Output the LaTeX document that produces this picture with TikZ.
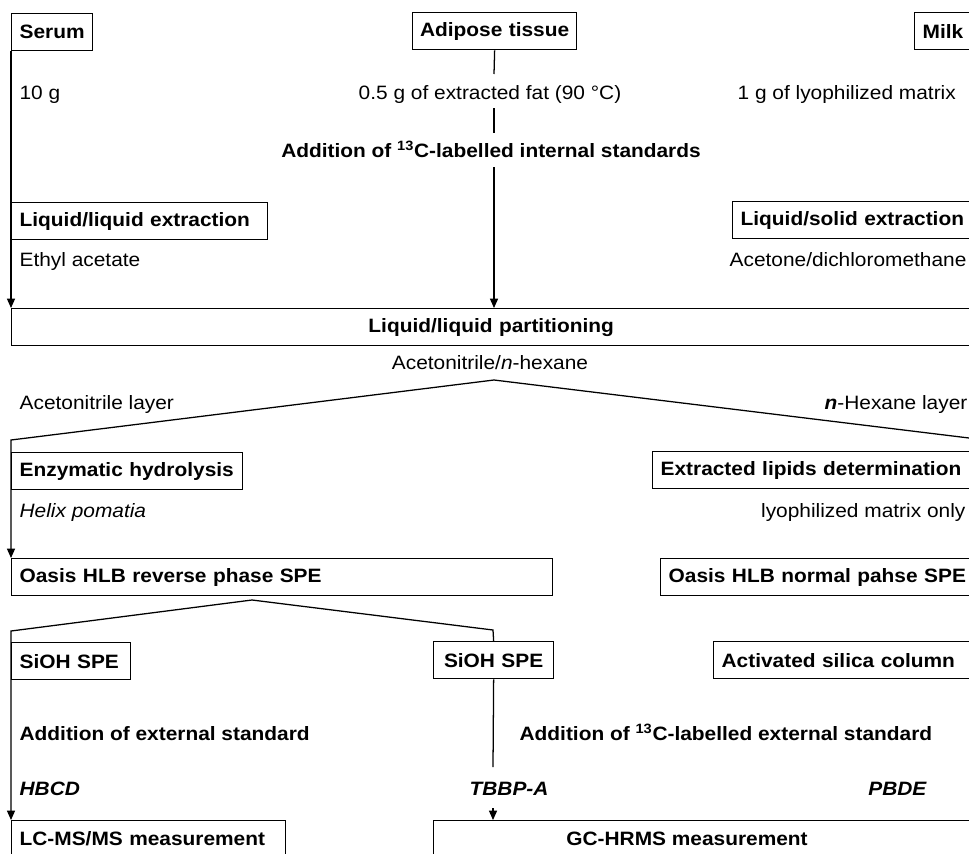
\documentclass[tikz,border=0pt]{standalone}
\usepackage{fontspec}
\setmainfont{Liberation Sans}[FakeStretch=1.08]
\usetikzlibrary{arrows.meta}
\newdimen\px \px=0.75pt
\begin{document}
\begin{tikzpicture}[x=0.75pt,y=-0.75pt,
  line width=0.95pt,
  every node/.style={font=\fontsize{14.5}{17}\selectfont},
  box/.style={draw, line width=0.95pt, anchor=north west, inner xsep=8\px, inner ysep=0pt,
    minimum height=37\px, align=left, font=\fontsize{14.5}{17}\selectfont\bfseries},
  cbox/.style={box, align=center},
  lbl/.style={inner sep=0pt},
  blbl/.style={inner sep=0pt, font=\fontsize{14.5}{17}\selectfont\bfseries},
  bilbl/.style={inner sep=0pt, font=\fontsize{14.5}{17}\selectfont\bfseries\itshape},
  arr/.style={-{Triangle[width=6pt,length=7pt]}}]
\useasboundingbox (0,0) rectangle (969,853);
\clip (0,0) rectangle (969,853);

% boxes
\node[box, text width=65\px] (serum) at (11,13) {Serum};
\node[cbox, inner xsep=1\px, text width=162\px] (adipose) at (412,12) {Adipose tissue};
\node[box, text width=90\px] (milk) at (914,12) {Milk};
\node[box, text width=240\px] (lle) at (11,202) {Liquid/liquid extraction};
\node[box, text width=284\px] (lse) at (732,201) {Liquid/solid extraction};
\node[cbox, text width=943\px] (part) at (11,308) {Liquid/liquid partitioning};
\node[box, text width=215\px] (enz) at (11,452) {Enzymatic hydrolysis};
\node[box, text width=334\px] (lipid) at (652,451) {Extracted lipids determination};
\node[box, text width=525\px] (oasisR) at (11,558) {Oasis HLB reverse phase SPE};
\node[box, text width=334\px] (oasisN) at (660,558) {Oasis HLB normal pahse SPE};
\node[box, text width=103\px] (siohA) at (11,642) {SiOH SPE};
\node[cbox, text width=104\px] (siohB) at (433,641) {SiOH SPE};
\node[box, text width=284\px] (silica) at (713,641) {Activated silica column};
\node[box, text width=258\px] (lcms) at (11,820) {LC-MS/MS measurement};
\node[box, text width=584\px] (gc) at (433,820) {};
\node[blbl] (gclabel) at (687,838.5) {GC-HRMS measurement};

% labels
\node[lbl, anchor=base west] (g10) at (19,99) {10 g};
\node[lbl, anchor=base] (g05) at (490,99) {0.5 g of extracted fat (90 °C)};
\node[lbl, anchor=base west] (g1) at (737,99) {1 g of lyophilized matrix};
\node[blbl, anchor=base] (addint) at (491,157) {Addition of \textsuperscript{13}C-labelled internal standards};
\node[lbl, anchor=base west] (ethyl) at (19,266) {Ethyl acetate};
\node[lbl, anchor=base west] (acetone) at (729,266) {Acetone/dichloromethane};
\node[lbl, anchor=base] (acnhex) at (490,369) {Acetonitrile/\textit{n}-hexane};
\node[lbl, anchor=base west] (aclayer) at (19,409) {Acetonitrile layer};
\node[lbl, anchor=base east] (hexlayer) at (968,409) {\textbf{\textit{n}}-Hexane layer};
\node[lbl, anchor=base west] (helix) at (19,517) {\textit{Helix pomatia}};
\node[lbl, anchor=base east] (lyoonly) at (966,517) {lyophilized matrix only};
\node[blbl, anchor=base west] (addext) at (19,740) {Addition of external standard};
\node[blbl, anchor=base west] (add13) at (519,740) {Addition of \textsuperscript{13}C-labelled external standard};
\node[bilbl, anchor=base west] (hbcd) at (19,795) {HBCD};
\node[bilbl, anchor=base west] (tbbpa) at (469,795) {TBBP-A};
\node[bilbl, anchor=base east] (pbde) at (927,795) {PBDE};

% connectors
\draw[arr] (serum.south west) -- (serum.south west |- part.north);

\coordinate (ad1) at (494,74);
\coordinate (ad2) at (494,108);
\coordinate (ad3) at (494,133);
\coordinate (ad4) at (494,167);
\draw (adipose.south) -- (ad1);
\draw (ad2) -- (ad3);
\draw[arr] (ad4) -- (ad4 |- part.north);

\coordinate (apA) at (494,380);
\coordinate (bendA) at (11,440);
\coordinate (offA) at (1010,443);
\draw[arr] (offA) -- (apA) -- (bendA) -- (oasisR.north west);

\coordinate (apB) at (252,600);
\coordinate (bendB1) at (11,631);
\coordinate (bendB2) at (493,630);
\draw[arr] (apB) -- (bendB1) -- (lcms.north west);
\draw (apB) -- (bendB2) -- (siohB.north);
\coordinate (tbTop) at (493,767);
\coordinate (tbBot) at (493,808);
\draw (siohB.south) -- (tbTop);
\draw[arr] (tbBot) -- (tbBot |- gc.north);
\end{tikzpicture}
\end{document}
